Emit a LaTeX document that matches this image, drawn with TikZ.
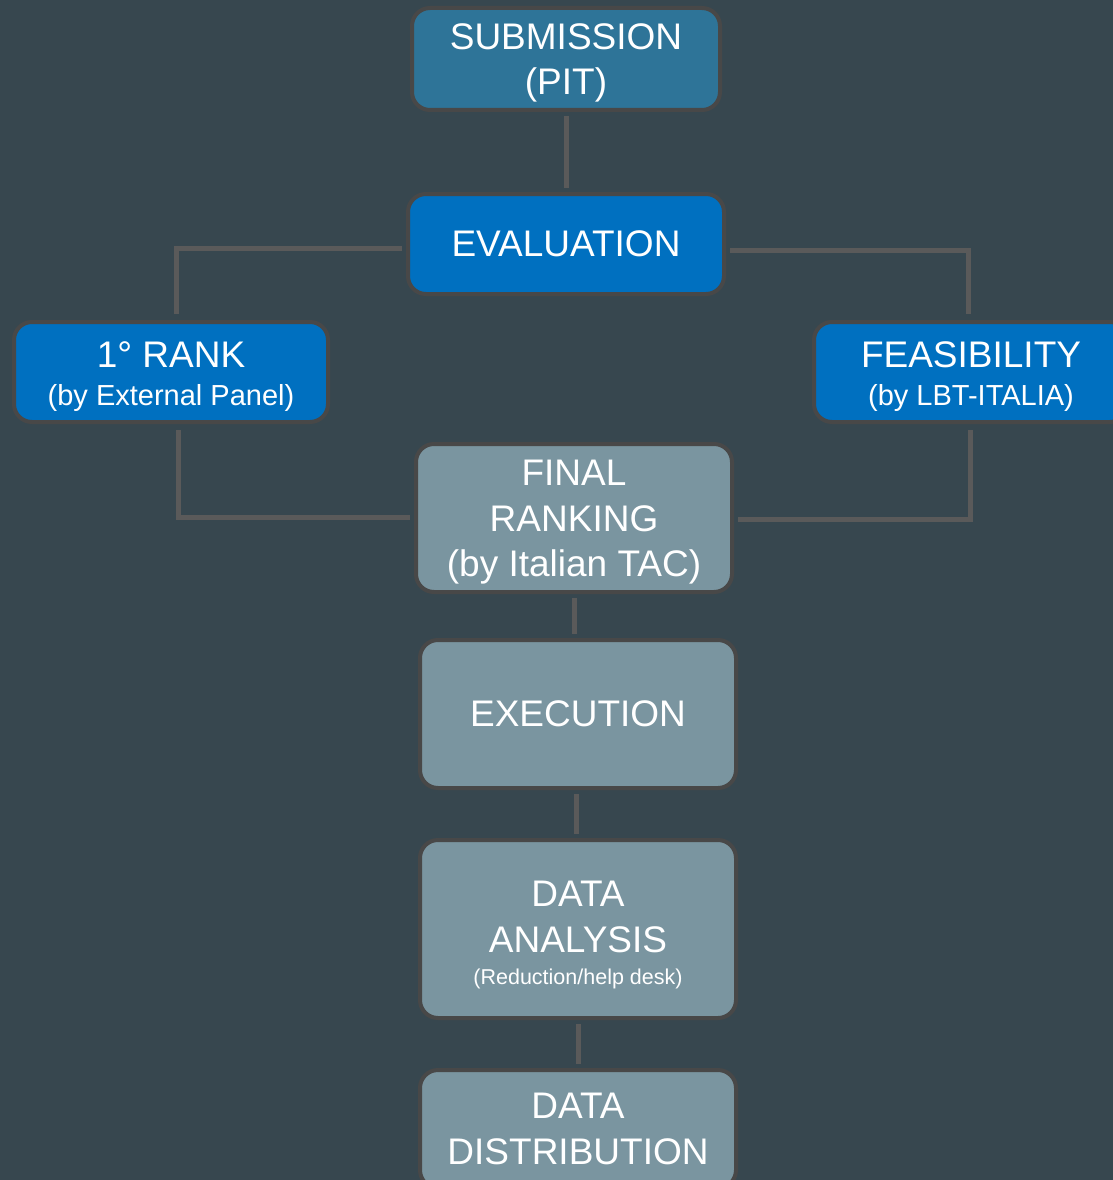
\documentclass[tikz,border=0pt]{standalone}
\usepackage{fontspec}
\setmainfont{Liberation Sans}
\definecolor{bg}{RGB}{55,71,79}
\definecolor{subfill}{RGB}{46,116,152}
\definecolor{bluefill}{RGB}{0,112,192}
\definecolor{greyfill}{RGB}{122,149,160}
\definecolor{edge}{RGB}{72,72,72}
\definecolor{linec}{RGB}{90,90,90}
\newcommand{\lowr}[1]{\rule{0pt}{#1}}
\begin{document}
\begin{tikzpicture}[x=1pt,y=-1pt,
  box/.style={draw=edge, line width=4pt, rounded corners=18pt, text=white, align=center, inner sep=0pt},
  big/.style={font=\fontsize{37}{45.5}\selectfont},
  conn/.style={draw=linec, line width=5pt}]
\useasboundingbox (0,0) rectangle (1113,1180);
\fill[bg] (0,0) rectangle (1113,1180);
\clip (0,0) rectangle (1113,1180);

\node[box, big, fill=subfill, minimum width=308pt, minimum height=102pt] (sub) at (566,59) {\lowr{34pt}SUBMISSION\\(PIT)};
\node[box, big, fill=bluefill, minimum width=316pt, minimum height=100pt] (eval) at (566,244) {EVALUATION};
\node[box, big, fill=bluefill, minimum width=314pt, minimum height=100pt] (rank) at (171,372) {\lowr{35pt}1° RANK\\[-7pt]{\fontsize{29}{34}\selectfont (by External Panel)}};
\node[box, big, fill=bluefill, minimum width=314pt, minimum height=100pt] (feas) at (971,372) {\lowr{35pt}FEASIBILITY\\[-7pt]{\fontsize{29}{34}\selectfont (by LBT-ITALIA)}};
\node[box, big, fill=greyfill, minimum width=316pt, minimum height=148pt] (final) at (574,518) {\lowr{34pt}FINAL\\RANKING\\(by Italian TAC)};
\node[box, big, fill=greyfill, minimum width=316pt, minimum height=148pt] (exec) at (578,714) {EXECUTION};
\node[box, big, fill=greyfill, minimum width=316pt, minimum height=178pt] (anal) at (578,929) {\lowr{38pt}DATA\\ANALYSIS\\[-13pt]{\fontsize{21.5}{26}\selectfont (Reduction/help desk)}};
\node[box, big, fill=greyfill, minimum width=316pt, minimum height=118pt] (dist) at (578,1129) {DATA\\DISTRIBUTION};

\draw[conn] ([yshift=-4pt]sub.south) -- ([yshift=4pt]eval.north);
\draw[conn] ([xshift=-4pt,yshift=-4pt]eval.west) -| ([xshift=5pt,yshift=6pt]rank.north);
\draw[conn] ([xshift=4pt,yshift=-6pt]eval.east) -| ([xshift=-3pt,yshift=6pt]feas.north);
\draw[conn] ([xshift=7pt,yshift=-6pt]rank.south) |- ([xshift=-4pt,yshift=1pt]final.west);
\draw[conn] ([xshift=-1pt,yshift=-6pt]feas.south) |- ([xshift=4pt,yshift=-1pt]final.east);
\draw[conn] ([yshift=-4pt]final.south) -- ([yshift=4pt,xshift=-4pt]exec.north);
\draw[conn] ([yshift=-4pt,xshift=-2pt]exec.south) -- ([yshift=4pt,xshift=-2pt]anal.north);
\draw[conn] ([yshift=-4pt]anal.south) -- ([yshift=4pt]dist.north);
\end{tikzpicture}
\end{document}
